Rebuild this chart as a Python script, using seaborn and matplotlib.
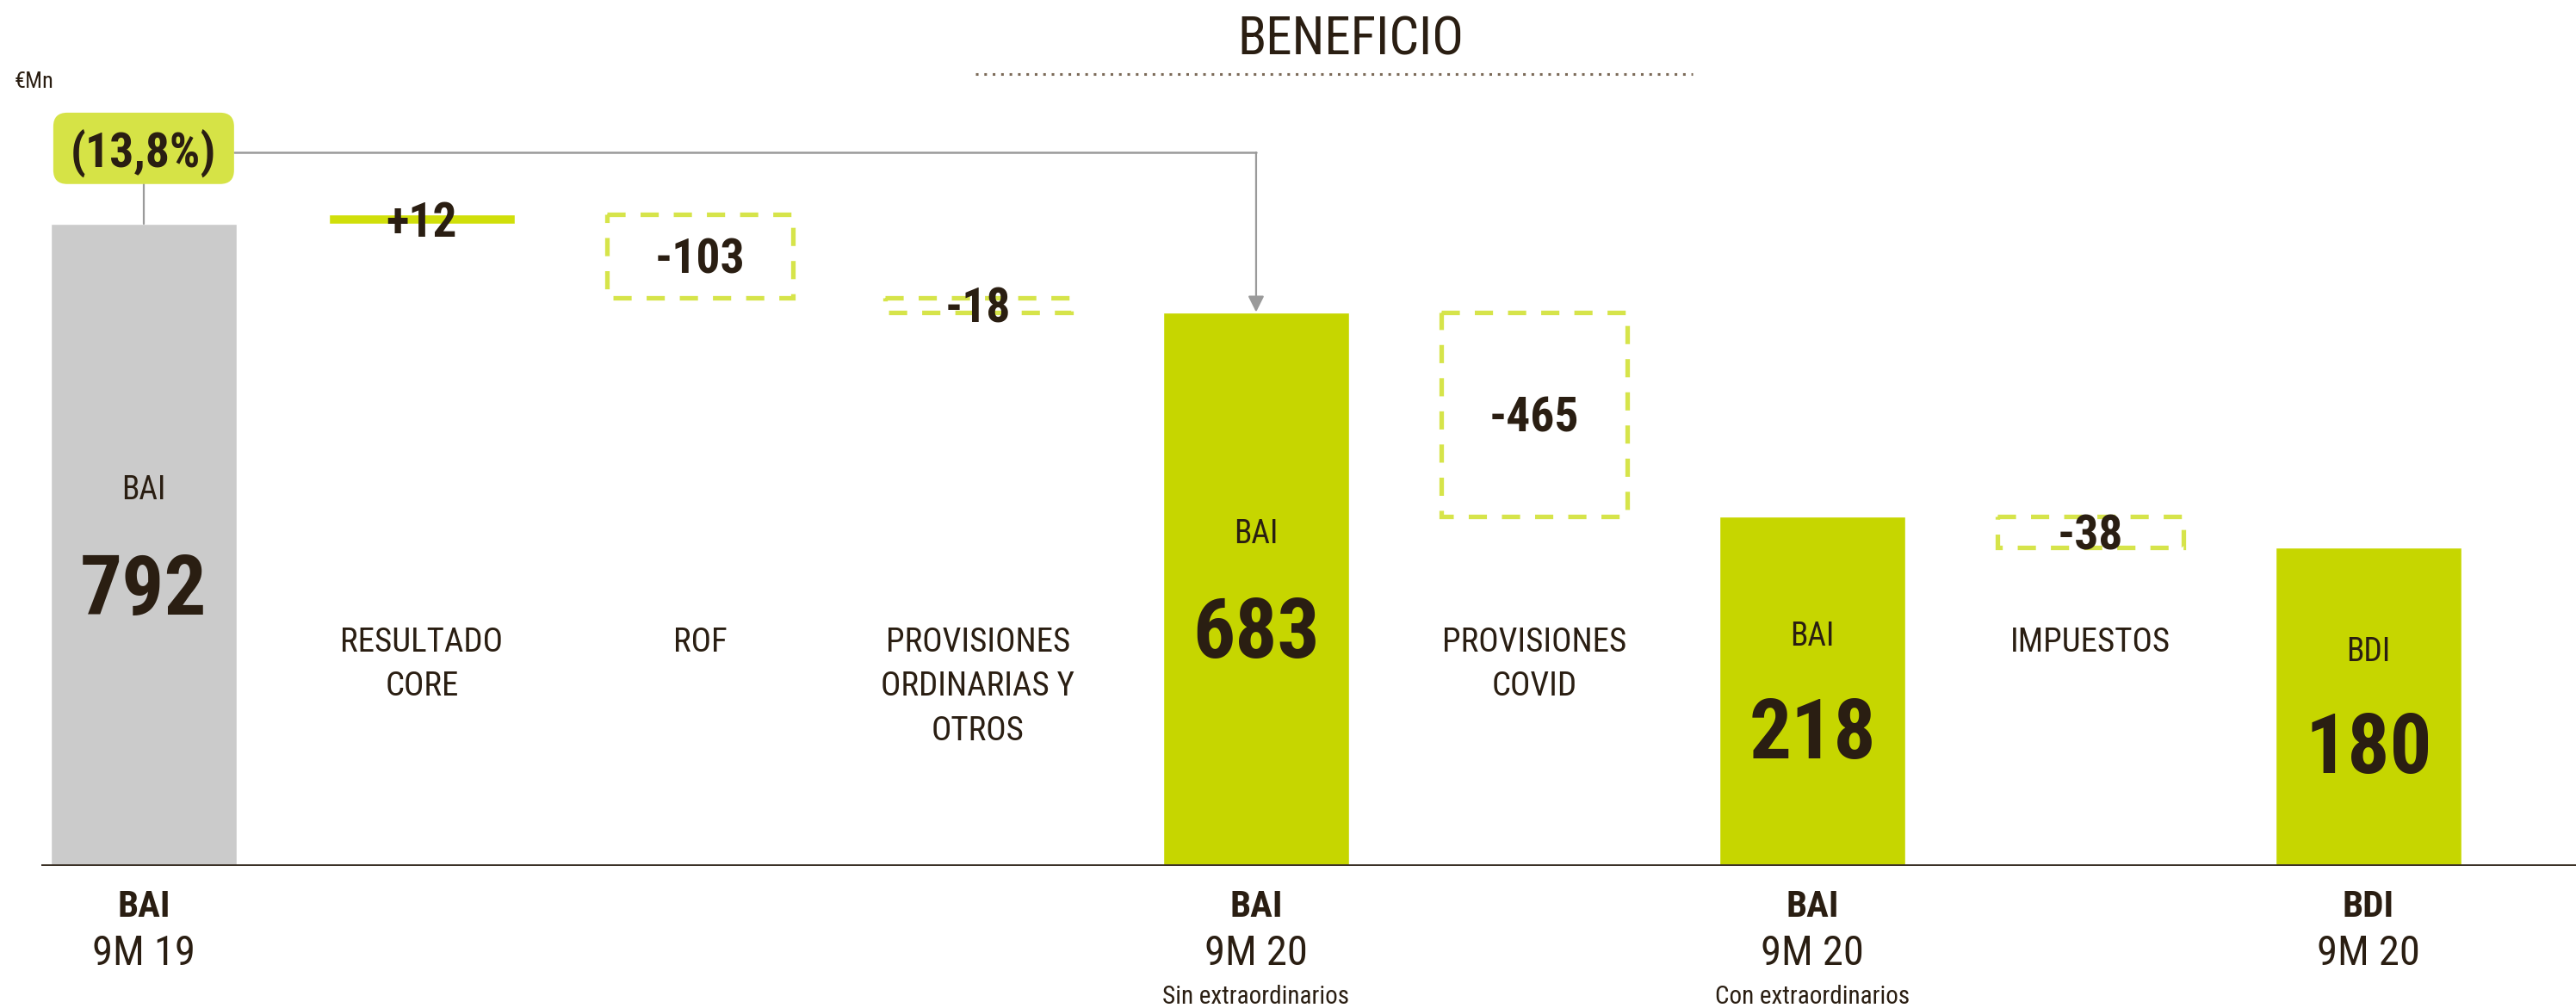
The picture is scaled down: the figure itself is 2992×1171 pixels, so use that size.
import matplotlib
matplotlib.use("Agg")
import pandas as pd
import matplotlib.pyplot as plt
import seaborn as sns
from matplotlib import font_manager as fm
from matplotlib.patches import FancyBboxPatch
from matplotlib.lines import Line2D

# Waterfall data (€Mn)
steps = ["BAI 9M 19", "RESULTADO CORE", "ROF", "PROVISIONES ORDINARIAS Y OTROS",
         "BAI 9M 20 SIN", "PROVISIONES COVID", "BAI 9M 20 CON", "IMPUESTOS", "BDI 9M 20"]
values = [792, 12, -103, -18, 683, -465, 218, -38, 180]
is_total = [True, False, False, False, True, False, True, False, True]
value_labels = ["792", "+12", "-103", "-18", "683", "-465", "218", "-38", "180"]
inner_labels = ["BAI", "", "", "", "BAI", "", "BAI", "", "BDI"]
middle_labels = [[], ["RESULTADO", "CORE"], ["ROF"], ["PROVISIONES", "ORDINARIAS Y", "OTROS"],
                 [], ["PROVISIONES", "COVID"], [], ["IMPUESTOS"], []]
bottom_titles = ["BAI", "", "", "", "BAI", "", "BAI", "", "BDI"]
bottom_periods = ["9M 19", "", "", "", "9M 20", "", "9M 20", "", "9M 20"]
bottom_notes = ["", "", "", "", "Sin extraordinarios", "", "Con extraordinarios", "", ""]
change_label = "(13,8%)"
title = "BENEFICIO"
unit_label = "€Mn"
# the original draws the COVID step shortened (broken scale)
covid_break = 213

# colours
GREEN = "#c6d600"
GREEN_LIGHT = "#d6e44a"
GREY = "#cbcbcb"
TXT = "#2a1e12"
LINE_GREY = "#9a9a9a"

# drawn geometry of the waterfall
offset = 0
running = 0
bottoms, heights = [], []
for s, v, tot in zip(steps, values, is_total):
    if tot:
        h = v + offset
        bottoms.append(0)
        heights.append(h)
        running = h
    else:
        d = v
        if s == "PROVISIONES COVID":
            d = v + covid_break
            offset += covid_break
        bottoms.append(running)
        heights.append(d)
        running += d

df = pd.DataFrame({"step": steps, "height": heights, "total": is_total})
df_tot = df[df["total"]]
palette = {s: (GREY if i == 0 else GREEN) for i, s in enumerate(steps)}

sns.set_style("white")

# pick a condensed face if one is installed
names = {f.name for f in fm.fontManager.ttflist}
family = None
stretch = "normal"
for cand in ["Roboto Condensed", "Open Sans Condensed", "Liberation Sans Narrow",
             "Noto Sans Condensed", "DejaVu Sans Condensed"]:
    if cand in names:
        family = cand
        break
if family is None:
    for f in fm.fontManager.ttflist:
        if ("Condensed" in f.fname or "Narrow" in f.fname) and f.name in ("DejaVu Sans", "Roboto", "Open Sans", "Noto Sans", "Liberation Sans"):
            family = f.name
            stretch = "condensed"
            break
if family is None:
    family = "Liberation Sans"
plt.rcParams["font.family"] = [family, "DejaVu Sans"]
plt.rcParams["font.stretch"] = stretch

W, H = 2992, 1171
fig = plt.figure(figsize=(W / 100, H / 100), dpi=100)
base_px = 1006
ax = fig.add_axes([48 / W, (H - base_px) / H, 1 - 48 / W, base_px / H])

bar_w = 0.67
sns.barplot(data=df_tot, x="step", y="height", order=steps, hue="step", palette=palette,
            legend=False, errorbar=None, saturation=1, width=bar_w, ax=ax)

# floating steps
for i in range(len(steps)):
    if is_total[i]:
        continue
    if values[i] > 0:
        ax.bar(i, heights[i], bottom=bottoms[i], width=bar_w, color="#d0df0a", zorder=2)
    else:
        ax.bar(i, heights[i], bottom=bottoms[i], width=bar_w, fill=False,
               edgecolor=GREEN_LIGHT, linewidth=3.8, linestyle=(0, (4.0, 3.3)), zorder=2)
    ax.text(i, bottoms[i] + heights[i] / 2, value_labels[i], ha="center", va="center_baseline",
            fontsize=40, fontweight="bold", color=TXT, zorder=5)

ax.set_xlim(-0.368, 8.746)
ax.set_ylim(0, base_px / 0.942)
for sp in ax.spines.values():
    sp.set_visible(False)
ax.axhline(0, color="#3b3127", linewidth=2.8, zorder=4)
ax.set_xticks([])
ax.set_yticks([])
ax.set_xlabel("")
ax.set_ylabel("")

# labels inside the total bars
for i in range(len(steps)):
    if not is_total[i]:
        continue
    h = heights[i]
    ax.text(i, 0.5 * h + 72, inner_labels[i], ha="center", va="center_baseline",
            fontsize=27, color=TXT)
    ax.text(i, 0.49 * h - 40, value_labels[i], ha="center", va="center_baseline",
            fontsize=70, fontweight="bold", color=TXT)

# step names in the middle
for i, lines in enumerate(middle_labels):
    for k, line in enumerate(lines):
        ax.text(i, 280 - k * 54.7, line, ha="center", va="center_baseline",
                fontsize=28, color=TXT)

# labels under the axis
for i in range(len(steps)):
    if bottom_titles[i]:
        ax.text(i, -46, bottom_titles[i], ha="center", va="center_baseline",
                fontsize=31, fontweight="bold", color=TXT)
        ax.text(i, -103, bottom_periods[i], ha="center", va="center_baseline",
                fontsize=35, color=TXT)
    if bottom_notes[i]:
        ax.text(i, -158, bottom_notes[i], ha="center", va="center_baseline",
                fontsize=21, color=TXT)

# change badge and connector
fig.canvas.draw()
px_x = ax.transData.transform((1, 0))[0] - ax.transData.transform((0, 0))[0]
px_y = ax.transData.transform((0, 1))[1] - ax.transData.transform((0, 0))[1]
box_w, box_h = 0.65, 88
box_y = 885
badge = FancyBboxPatch((0 - box_w / 2, box_y - box_h / 2), box_w, box_h,
                       boxstyle="round,pad=0,rounding_size=0.05",
                       mutation_aspect=px_x / px_y, facecolor="#d6e346",
                       edgecolor="none", zorder=5, clip_on=False)
ax.add_patch(badge)
ax.text(0, box_y, change_label, ha="center", va="center_baseline", fontsize=40,
        fontweight="bold", color=TXT, zorder=6)
ax.plot([0, 0], [box_y - box_h / 2, heights[0]], color=LINE_GREY, lw=1.6, zorder=3)
line_y = 880
ax.plot([box_w / 2, 4], [line_y, line_y], color=LINE_GREY, lw=1.8, zorder=3)
ax.annotate("", xy=(4, heights[4]), xytext=(4, line_y),
            arrowprops=dict(arrowstyle="-|>", color=LINE_GREY, lw=1.6,
                            mutation_scale=28, shrinkA=0, shrinkB=0), zorder=3)

# title, separator and unit
fig.text(1569 / W, 1 - 41 / H, title, ha="center", va="center_baseline", fontsize=44, color=TXT)
fig.add_artist(Line2D([1133 / W, 1966 / W], [1 - 86 / H] * 2, transform=fig.transFigure,
                      color="#7b6a58", lw=2.2, linestyle=(0, (1, 2.2))))
fig.text(17 / W, 1 - 92 / H, unit_label, ha="left", va="center_baseline", fontsize=19, color=TXT)

fig.savefig("out.png", dpi=100, facecolor="white")
